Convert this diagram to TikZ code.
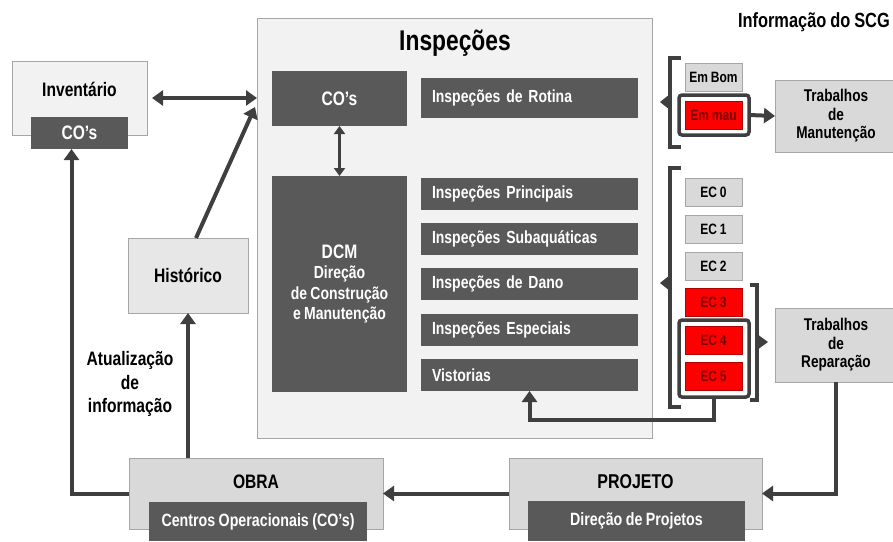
\documentclass[tikz,border=0pt]{standalone}
\usepackage{fontspec}
\setmainfont{Liberation Sans}[FakeStretch=0.8]
\usetikzlibrary{arrows.meta}
\definecolor{dk}{HTML}{595959}
\definecolor{ln}{HTML}{3F3F3F}
\definecolor{lt}{HTML}{F2F2F2}
\definecolor{md}{HTML}{D9D9D9}
\definecolor{hs}{HTML}{E7E7E7}
\definecolor{bd}{HTML}{A6A6A6}
\definecolor{rd}{HTML}{FF0000}
\definecolor{rt}{HTML}{7A0000}
\newcommand{\fs}[2]{\fontsize{#1}{#2}\selectfont\bfseries\spaceskip=0.19em\relax}
\tikzset{
  nw/.style={anchor=north west, inner sep=0pt, outer sep=0pt},
  dkbox/.style={nw, fill=dk, text=white, font={\fs{17.5}{18}}},
  rowbox/.style={dkbox, minimum width=217pt, minimum height=32pt, text width=195pt, align=left},
  ltbox/.style={nw, fill=md, draw=bd, line width=0.8pt},
  ecbox/.style={nw, fill=md, draw=bd, line width=0.6pt, minimum width=57pt, minimum height=28pt, font={\fs{15}{16}}},
  redbox/.style={ecbox, fill=rd, draw=red!70!black, text=rt},
  frm/.style={nw, draw=ln, line width=3.5pt, rounded corners=3pt},
  lab/.style={inner sep=0pt, font={\fs{19.5}{20}}, align=center},
  arr/.style={draw=ln, line width=4pt, -{Triangle[length=11pt,width=15pt]}},
  darr/.style={draw=ln, line width=4pt, {Triangle[length=11pt,width=15pt]}-{Triangle[length=11pt,width=15pt]}},
  sarr/.style={draw=ln, line width=3pt, {Triangle[length=8pt,width=11pt]}-{Triangle[length=8pt,width=11pt]}},
  brk/.style={draw=ln, line width=3.5pt},
}
\begin{document}
\begin{tikzpicture}[x=1pt,y=-1pt]
\useasboundingbox (0,0) rectangle (893,541);
% main Inspecoes frame
\node[nw, fill=lt, draw=bd, line width=0.8pt, minimum width=395pt, minimum height=420pt] (insp) at (257,18) {};
\node[inner sep=0pt, font={\fs{28.5}{30}}] (tit) at (455,43) {Inspeções};
\node[dkbox, minimum width=135pt, minimum height=55pt, font={\fs{19.5}{20}}] (cos) at (272,71) {CO’s};
\node[rowbox, minimum height=40pt] (rot) at (421,78) {Inspeções de Rotina};
\node[dkbox, minimum width=135pt, minimum height=216pt, align=center, font={\fs{17.5}{20.5}}] (dcm) at (272,176)
  {{\fs{19.5}{22}DCM}\\Direção\\de Construção\\e Manutenção};
\node[rowbox] (ip1) at (421,178) {Inspeções Principais};
\node[rowbox] (ip2) at (421,223) {Inspeções Subaquáticas};
\node[rowbox] (ip3) at (421,268) {Inspeções de Dano};
\node[rowbox] (ip4) at (421,314) {Inspeções Especiais};
\node[rowbox] (ip5) at (421,359) {Vistorias};
% Inventario
\node[nw, fill=lt, draw=bd, line width=0.8pt, minimum width=135pt, minimum height=74pt] (inv) at (12,61) {};
\node[lab] (invt) at (79.5,89) {Inventário};
\node[dkbox, minimum width=97pt, minimum height=32pt, font={\fs{19.5}{20}}] (cos2) at (31,117) {CO’s};
% Historico
\node[nw, fill=hs, draw=bd, line width=0.8pt, minimum width=120pt, minimum height=75pt, font={\fs{19.5}{20}}] (hist) at (128,238) {Histórico};
\node[lab, font={\fs{19.5}{23.5}}] (upd) at (130,384) {Atualização\\de\\informação};
% OBRA
\node[ltbox, minimum width=254pt, minimum height=71pt] (obra) at (129,458) {};
\node[lab] (obrat) at (256,482) {OBRA};
\node[dkbox, minimum width=218pt, minimum height=39pt, font={\fs{17.8}{18}}] (obrai) at (149,502) {Centros Operacionais (CO’s)};
% PROJETO
\node[ltbox, minimum width=253pt, minimum height=71pt] (proj) at (509,458) {};
\node[lab, font={\fs{20}{20}}] (projt) at (635.5,482) {PROJETO};
\node[dkbox, minimum width=217pt, minimum height=40pt, font={\fs{17.8}{18}}] (proji) at (528,501) {Direção de Projetos};
% Trabalhos
\node[ltbox, minimum width=122pt, minimum height=72pt, align=center, font={\fs{17}{18.5}}] (tman) at (775,80) {Trabalhos\\de\\Manutenção};
\node[ltbox, minimum width=122pt, minimum height=74pt, align=center, font={\fs{17}{18.5}}] (trep) at (775,308) {Trabalhos\\de\\Reparação};
\node[inner sep=0pt, anchor=east, font={\fs{20.5}{22}}] (scg) at (890,22) {Informação do SCG};
% state boxes
\node[ecbox] (embom) at (685,63) {Em Bom};
\node[redbox] (emmau) at (685,101) {Em mau};
\node[frm, minimum width=70pt, minimum height=40pt] (fr1) at (679,95) {};
\node[ecbox] (ec0) at (685,178) {EC 0};
\node[ecbox] (ec1) at (685,215) {EC 1};
\node[ecbox] (ec2) at (685,252) {EC 2};
\node[redbox] (ec3) at (685,288) {EC 3};
\node[redbox] (ec4) at (685,326) {EC 4};
\node[redbox] (ec5) at (685,362) {EC 5};
\node[frm, minimum width=70pt, minimum height=77pt] (fr2) at (679,320) {};
% brackets
\draw[brk] (681,58) -- (670,58) -- (670,147) -- (681,147);
\fill[ln] (670,94) -- (660,102) -- (670,110) -- cycle;
\draw[brk] (681,168) -- (670,168) -- (670,407) -- (681,407);
\fill[ln] (670,275) -- (660,283) -- (670,291) -- cycle;
\draw[brk] (750,285) -- (757,285) -- (757,400) -- (750,400);
\fill[ln] (757,334) -- (768,342) -- (757,350) -- cycle;
% connectors
\draw[darr] ([xshift=5pt]inv.east) -- (inv.east -| insp.west);
\draw[sarr] (cos.south) -- (dcm.north);
\draw[arr] ([xshift=8pt]hist.north) -- ([shift={(-2pt,-89pt)}]insp.north west);
\draw[arr] (obra.north -| hist.south) -- (hist.south);
\draw[arr] (obra.west) -| ([xshift=-8pt]cos2.south);
\draw[arr] (proj.west) -- (obra.east);
\draw[arr] (trep.south) |- (proj.east);
\draw[arr] (fr2.south) -- ++(0,23) -| (ip5.south);
\draw[arr] (fr1.east) -- (tman.west);
\end{tikzpicture}
\end{document}
